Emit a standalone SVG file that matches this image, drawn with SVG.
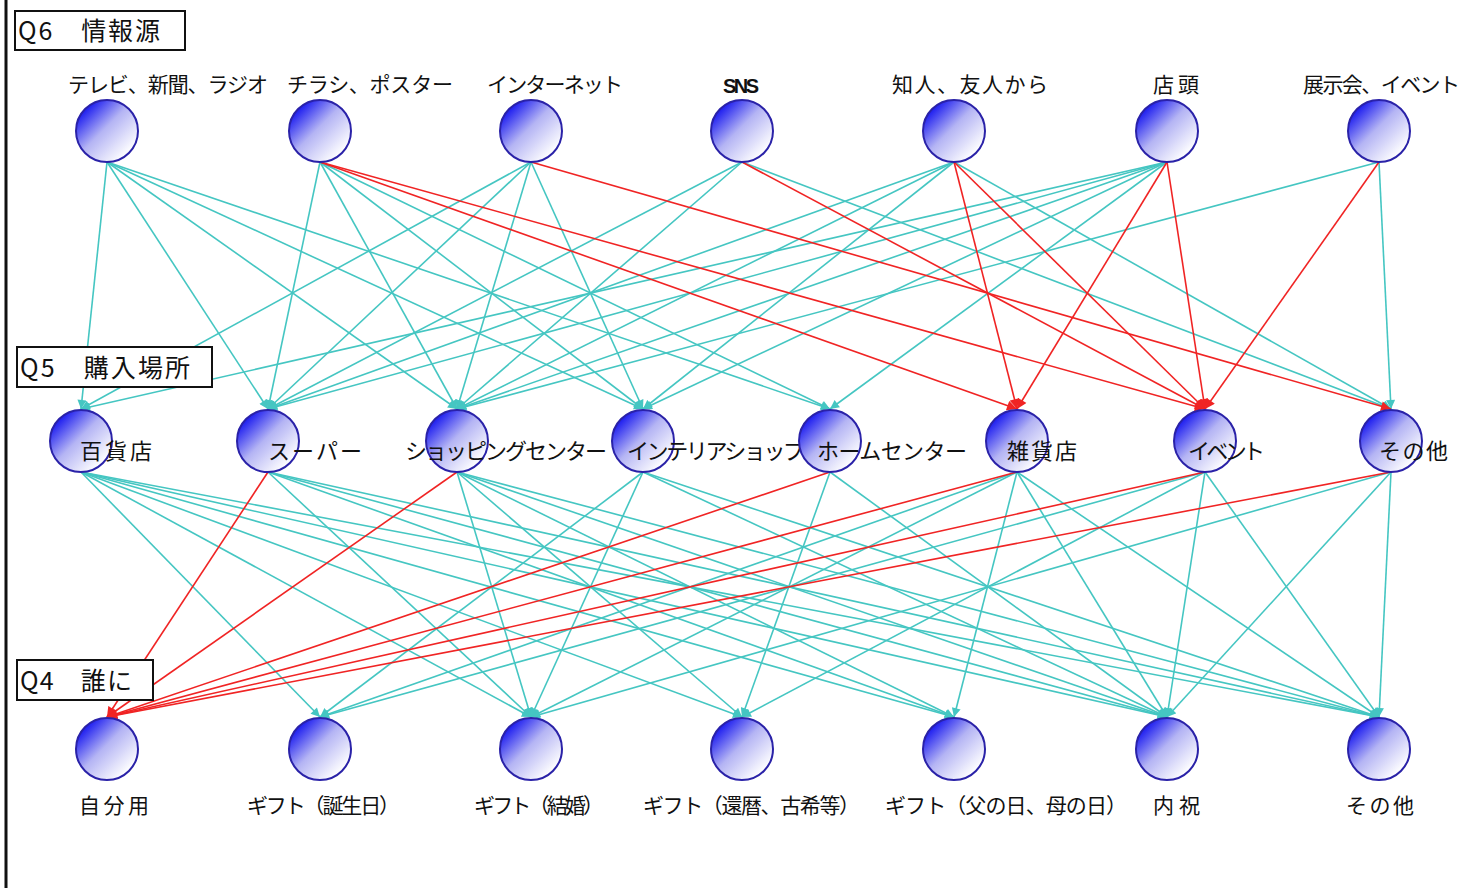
<svg xmlns="http://www.w3.org/2000/svg" width="1472" height="888" viewBox="0 0 1472 888">
<style>
.lbl{font-family:"Noto Sans CJK JP","Liberation Sans",sans-serif;font-size:21px;fill:#111}
.lm{font-size:22px}
.sec{font-family:"Noto Sans CJK JP","Liberation Sans",sans-serif;font-size:25px;fill:#111}
.box{fill:#fff;stroke:#111;stroke-width:2}
.nd{fill:url(#g);stroke:#2a22a8;stroke-width:2}
.c{stroke:#45c6c2;stroke-width:1.6;fill:none;marker-end:url(#ac)}
.r{stroke:#f02424;stroke-width:1.6;fill:none;marker-end:url(#ar)}
</style>
<defs>
<linearGradient id="g" x1="0.15" y1="0.15" x2="0.85" y2="0.85">
<stop offset="0" stop-color="#1e1ef0"/>
<stop offset="0.45" stop-color="#b4b4f4"/>
<stop offset="1" stop-color="#ffffff"/>
</linearGradient>
<marker id="ac" viewBox="0 0 10 10" refX="10" refY="5" markerWidth="10" markerHeight="9" orient="auto" markerUnits="userSpaceOnUse">
<path d="M0,0 L10,5 L0,10 z" fill="#45c6c2"/>
</marker>
<marker id="ar" viewBox="0 0 10 10" refX="10" refY="5" markerWidth="11" markerHeight="10" orient="auto" markerUnits="userSpaceOnUse">
<path d="M0,0 L10,5 L0,10 z" fill="#f02424"/>
</marker>
</defs>
<rect x="0" y="0" width="1472" height="888" fill="#fff"/>
<line x1="6" y1="0" x2="6" y2="888" stroke="#111" stroke-width="3"/>

<g id="connectors">
<!-- upper cyan -->
<line class="c" x1="107" y1="162" x2="81" y2="409"/>
<line class="c" x1="107" y1="162" x2="268" y2="409"/>
<line class="c" x1="107" y1="162" x2="457" y2="409"/>
<line class="c" x1="107" y1="162" x2="643" y2="409"/>
<line class="c" x1="107" y1="162" x2="830" y2="409"/>
<line class="c" x1="320" y1="162" x2="268" y2="409"/>
<line class="c" x1="320" y1="162" x2="457" y2="409"/>
<line class="c" x1="320" y1="162" x2="643" y2="409"/>
<line class="c" x1="320" y1="162" x2="830" y2="409"/>
<line class="c" x1="531" y1="162" x2="81" y2="409"/>
<line class="c" x1="531" y1="162" x2="268" y2="409"/>
<line class="c" x1="531" y1="162" x2="457" y2="409"/>
<line class="c" x1="531" y1="162" x2="643" y2="409"/>
<line class="c" x1="742" y1="162" x2="268" y2="409"/>
<line class="c" x1="742" y1="162" x2="457" y2="409"/>
<line class="c" x1="742" y1="162" x2="1391" y2="409"/>
<line class="c" x1="954" y1="162" x2="268" y2="409"/>
<line class="c" x1="954" y1="162" x2="457" y2="409"/>
<line class="c" x1="954" y1="162" x2="643" y2="409"/>
<line class="c" x1="954" y1="162" x2="1391" y2="409"/>
<line class="c" x1="1167" y1="162" x2="81" y2="409"/>
<line class="c" x1="1167" y1="162" x2="268" y2="409"/>
<line class="c" x1="1167" y1="162" x2="457" y2="409"/>
<line class="c" x1="1167" y1="162" x2="643" y2="409"/>
<line class="c" x1="1167" y1="162" x2="830" y2="409"/>
<line class="c" x1="1379" y1="162" x2="457" y2="409"/>
<line class="c" x1="1379" y1="162" x2="1391" y2="409"/>
<!-- lower cyan -->
<line class="c" x1="81" y1="472" x2="320" y2="717"/>
<line class="c" x1="81" y1="472" x2="531" y2="717"/>
<line class="c" x1="81" y1="472" x2="742" y2="717"/>
<line class="c" x1="81" y1="472" x2="954" y2="717"/>
<line class="c" x1="81" y1="472" x2="1167" y2="717"/>
<line class="c" x1="81" y1="472" x2="1379" y2="717"/>
<line class="c" x1="268" y1="472" x2="531" y2="717"/>
<line class="c" x1="268" y1="472" x2="954" y2="717"/>
<line class="c" x1="268" y1="472" x2="1167" y2="717"/>
<line class="c" x1="268" y1="472" x2="1379" y2="717"/>
<line class="c" x1="457" y1="472" x2="531" y2="717"/>
<line class="c" x1="457" y1="472" x2="742" y2="717"/>
<line class="c" x1="457" y1="472" x2="954" y2="717"/>
<line class="c" x1="457" y1="472" x2="1167" y2="717"/>
<line class="c" x1="457" y1="472" x2="1379" y2="717"/>
<line class="c" x1="643" y1="472" x2="320" y2="717"/>
<line class="c" x1="643" y1="472" x2="531" y2="717"/>
<line class="c" x1="643" y1="472" x2="1167" y2="717"/>
<line class="c" x1="643" y1="472" x2="1379" y2="717"/>
<line class="c" x1="830" y1="472" x2="742" y2="717"/>
<line class="c" x1="830" y1="472" x2="1167" y2="717"/>
<line class="c" x1="1017" y1="472" x2="320" y2="717"/>
<line class="c" x1="1017" y1="472" x2="531" y2="717"/>
<line class="c" x1="1017" y1="472" x2="954" y2="717"/>
<line class="c" x1="1017" y1="472" x2="1167" y2="717"/>
<line class="c" x1="1017" y1="472" x2="1379" y2="717"/>
<line class="c" x1="1205" y1="472" x2="320" y2="717"/>
<line class="c" x1="1205" y1="472" x2="742" y2="717"/>
<line class="c" x1="1205" y1="472" x2="1167" y2="717"/>
<line class="c" x1="1205" y1="472" x2="1379" y2="717"/>
<line class="c" x1="1391" y1="472" x2="531" y2="717"/>
<line class="c" x1="1391" y1="472" x2="1167" y2="717"/>
<line class="c" x1="1391" y1="472" x2="1379" y2="717"/>
<!-- red -->
<line class="r" x1="320" y1="162" x2="1017" y2="409"/>
<line class="r" x1="320" y1="162" x2="1205" y2="409"/>
<line class="r" x1="531" y1="162" x2="1391" y2="409"/>
<line class="r" x1="742" y1="162" x2="1205" y2="409"/>
<line class="r" x1="954" y1="162" x2="1017" y2="409"/>
<line class="r" x1="954" y1="162" x2="1205" y2="409"/>
<line class="r" x1="1167" y1="162" x2="1017" y2="409"/>
<line class="r" x1="1167" y1="162" x2="1205" y2="409"/>
<line class="r" x1="1379" y1="162" x2="1205" y2="409"/>
<line class="r" x1="268" y1="472" x2="107" y2="717"/>
<line class="r" x1="457" y1="472" x2="107" y2="717"/>
<line class="r" x1="830" y1="472" x2="107" y2="717"/>
<line class="r" x1="1017" y1="472" x2="107" y2="717"/>
<line class="r" x1="1205" y1="472" x2="107" y2="717"/>
<line class="r" x1="1391" y1="472" x2="107" y2="717"/>
</g>

<g id="sec-q6"><rect class="box" x="15" y="11" width="170" height="39"/><text class="sec" x="18" y="40" textLength="142">Q6　情報源</text></g>
<g id="sec-q5"><rect class="box" x="17" y="347" width="195" height="40"/><text class="sec" x="20" y="377" textLength="170">Q5　購入場所</text></g>
<g id="sec-q4"><rect class="box" x="17" y="660" width="136" height="40"/><text class="sec" x="20" y="690" textLength="112">Q4　誰に</text></g>

<g id="t1"><circle class="nd" cx="107" cy="131" r="31"/><text class="lbl" x="68" y="92" textLength="200">テレビ、新聞、ラジオ</text></g>
<g id="t2"><circle class="nd" cx="320" cy="131" r="31"/><text class="lbl" x="287" y="92" textLength="166">チラシ、ポスター</text></g>
<g id="t3"><circle class="nd" cx="531" cy="131" r="31"/><text class="lbl" x="487" y="92" textLength="136">インターネット</text></g>
<g id="t4"><circle class="nd" cx="742" cy="131" r="31"/><text x="723" y="93" textLength="36" style="font-family:'Liberation Sans',sans-serif;font-size:20px;font-weight:bold;fill:#111">SNS</text></g>
<g id="t5"><circle class="nd" cx="954" cy="131" r="31"/><text class="lbl" x="892" y="92" textLength="156">知人、友人から</text></g>
<g id="t6"><circle class="nd" cx="1167" cy="131" r="31"/><text class="lbl" x="1153" y="92" textLength="46">店頭</text></g>
<g id="t7"><circle class="nd" cx="1379" cy="131" r="31"/><text class="lbl" x="1303" y="92" textLength="157">展示会、イベント</text></g>

<g id="m1"><circle class="nd" cx="81" cy="441" r="31"/><text class="lbl lm" x="80" y="459" textLength="72">百貨店</text></g>
<g id="m2"><circle class="nd" cx="268" cy="441" r="31"/><text class="lbl lm" x="268" y="459" textLength="94">スーパー</text></g>
<g id="m3"><circle class="nd" cx="457" cy="441" r="31"/><text class="lbl lm" x="405" y="459" textLength="202">ショッピングセンター</text></g>
<g id="m4"><circle class="nd" cx="643" cy="441" r="31"/><text class="lbl lm" x="627" y="459" textLength="178">インテリアショップ</text></g>
<g id="m5"><circle class="nd" cx="830" cy="441" r="31"/><text class="lbl lm" x="817" y="459" textLength="150">ホームセンター</text></g>
<g id="m6"><circle class="nd" cx="1017" cy="441" r="31"/><text class="lbl lm" x="1007" y="459" textLength="70">雑貨店</text></g>
<g id="m7"><circle class="nd" cx="1205" cy="441" r="31"/><text class="lbl lm" x="1188" y="459" textLength="77">イベント</text></g>
<g id="m8"><circle class="nd" cx="1391" cy="441" r="31"/><text class="lbl lm" x="1379" y="459" textLength="69">その他</text></g>

<g id="b1"><circle class="nd" cx="107" cy="749" r="31"/><text class="lbl" x="79" y="813" textLength="70">自分用</text></g>
<g id="b2"><circle class="nd" cx="320" cy="749" r="31"/><text class="lbl" x="247" y="813" textLength="153">ギフト（誕生日）</text></g>
<g id="b3"><circle class="nd" cx="531" cy="749" r="31"/><text class="lbl" x="474" y="813" textLength="130">ギフト（結婚）</text></g>
<g id="b4"><circle class="nd" cx="742" cy="749" r="31"/><text class="lbl" x="643" y="813" textLength="217">ギフト（還暦、古希等）</text></g>
<g id="b5"><circle class="nd" cx="954" cy="749" r="31"/><text class="lbl" x="885" y="813" textLength="242">ギフト（父の日、母の日）</text></g>
<g id="b6"><circle class="nd" cx="1167" cy="749" r="31"/><text class="lbl" x="1153" y="813" textLength="47">内祝</text></g>
<g id="b7"><circle class="nd" cx="1379" cy="749" r="31"/><text class="lbl" x="1346" y="813" textLength="68">その他</text></g>
</svg>
